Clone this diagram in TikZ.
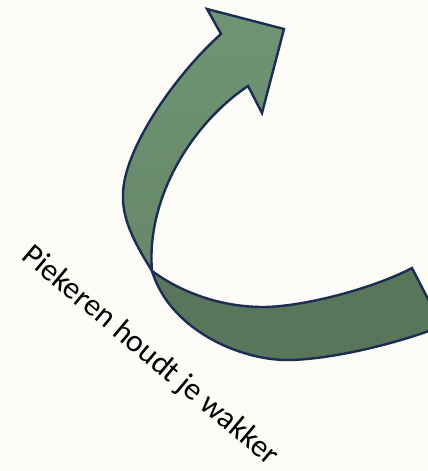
\documentclass[tikz,border=0pt]{standalone}
\usepackage{fontspec}
\setmainfont{Carlito}
\definecolor{bgc}{HTML}{FCFBF8}
\definecolor{navy}{HTML}{1B2D52}
\definecolor{gtop}{HTML}{6F9473}
\definecolor{gmid}{HTML}{67886A}
\definecolor{gbot}{HTML}{5A765A}
\tikzset{
  outline/.style={draw=navy, line width=2.4pt, line join=miter},
  label/.style={font=\fontsize{31.5}{36}\selectfont, text=black, rotate=-40, inner sep=0pt}
}
\begin{document}
\begin{tikzpicture}[x=1pt,y=-1pt]
\fill[bgc] (0,0) rectangle (428,471);
\useasboundingbox (0,0) rectangle (428,471);
\clip (0,0) rectangle (428,471);
% key points
\coordinate (nl) at (221,34);
\coordinate (bl) at (207,9);
\coordinate (tr) at (284,29);
\coordinate (br) at (262,113);
\coordinate (nr) at (248,86);
\coordinate (touch) at (152,271);
\coordinate (low) at (263,307);
\coordinate (endt) at (412,268);
\coordinate (endb) at (442,326);
\coordinate (bot) at (287,360);
\coordinate (lft) at (123,195);
% lower band
\path[outline, fill=gbot] (touch)
  .. controls (185,295) and (225,307) .. (low)
  .. controls (300,307) and (370,290) .. (endt)
  -- (endb)
  .. controls (400,343) and (330,360) .. (bot)
  .. controls (240,360) and (170,330) .. (touch)
  -- cycle;
% upper arrow part
\path[outline, top color=gtop, bottom color=gmid] (nl) -- (bl) -- (tr) -- (br) -- (nr)
  .. controls (190,125) and (146,200) .. (touch)
  .. controls (138,248) and (122,222) .. (lft)
  .. controls (123,150) and (175,75) .. (nl)
  -- cycle;
\node[label] (txt) at (150,356) {Piekeren houdt je wakker};
\end{tikzpicture}
\end{document}
